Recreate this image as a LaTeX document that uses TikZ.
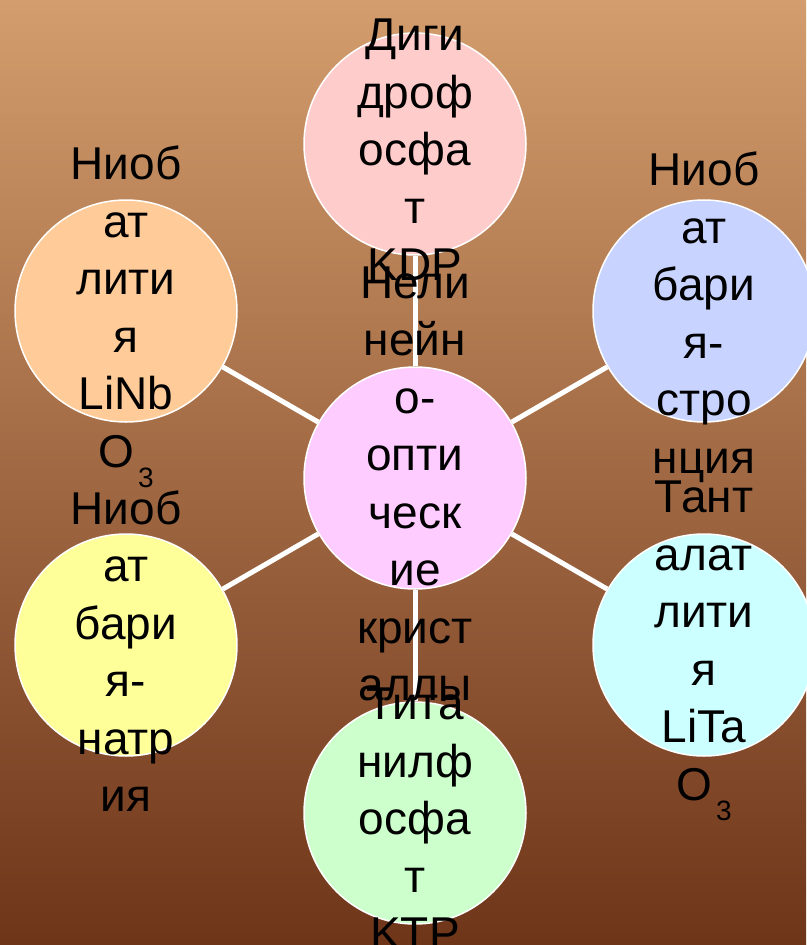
\documentclass[tikz,border=0pt]{standalone}
\usepackage{fontspec}
\setmainfont{Liberation Sans}
\usepackage{tikz}
\definecolor{bgtop}{HTML}{D39D6D}
\definecolor{bgmid}{HTML}{A9572E}
\definecolor{bgbot}{HTML}{6E3519}
\tikzset{
	crystal/.style = {circle, draw=white, line width=1.5pt,
		minimum size=222pt, inner sep=0pt},% cercle vide
	ctext/.style = {align=center, inner sep=0pt, yshift=-6pt,
		font=\fontsize{46}{57.5}\selectfont},% texte du cercle
	link/.style = {draw=white, line width=5pt}% trait blanc
}
\newcommand{\oxy}{O\kern4pt\raisebox{-20pt}{\fontsize{28}{28}\selectfont 3}}

\begin{document}
\begin{tikzpicture}[x=1pt,y=-1pt]
\useasboundingbox (0,0) rectangle (806,945);
\shade[top color=bgtop, middle color=bgmid, bottom color=bgbot] (0,0) rectangle (806,945);
\node [crystal, fill={rgb,255:red,255;green,204;blue,255}] (ctr) at (415,478) {};
\node [crystal, fill={rgb,255:red,255;green,204;blue,204}] (kdp) at (415,144) {};
\node [crystal, fill={rgb,255:red,255;green,204;blue,153}] (lnb) at (126,311) {};
\node [crystal, fill={rgb,255:red,200;green,212;blue,255}] (bsn) at (704,311) {};
\node [crystal, fill={rgb,255:red,255;green,255;blue,153}] (bnn) at (126,645) {};
\node [crystal, fill={rgb,255:red,204;green,255;blue,255}] (lta) at (704,645) {};
\node [crystal, fill={rgb,255:red,204;green,255;blue,204}] (ktp) at (415,813) {};
\foreach \n in {kdp,lnb,bsn,bnn,lta,ktp}
	\draw [link] (ctr) -- (\n);
\node [ctext] (ctr-t) at (ctr) {Нели\\нейн\\о-\\опти\\ческ\\ие\\крист\\аллы};
\node [ctext] (kdp-t) at (kdp) {Диги\\дроф\\осфа\\т\\KDP};
\node [ctext] (lnb-t) at (lnb) {Ниоб\\ат\\лити\\я\\LiNb\\\oxy};
\node [ctext] (bsn-t) at (bsn) {Ниоб\\ат\\бари\\я-\\стро\\нция};
\node [ctext] (bnn-t) at (bnn) {Ниоб\\ат\\бари\\я-\\натр\\ия};
\node [ctext] (lta-t) at (lta) {Тант\\алат\\лити\\я\\LiTa\\\oxy};
\node [ctext] (ktp-t) at (ktp) {Тита\\нилф\\осфа\\т\\KTP};
\end{tikzpicture}
\end{document}
